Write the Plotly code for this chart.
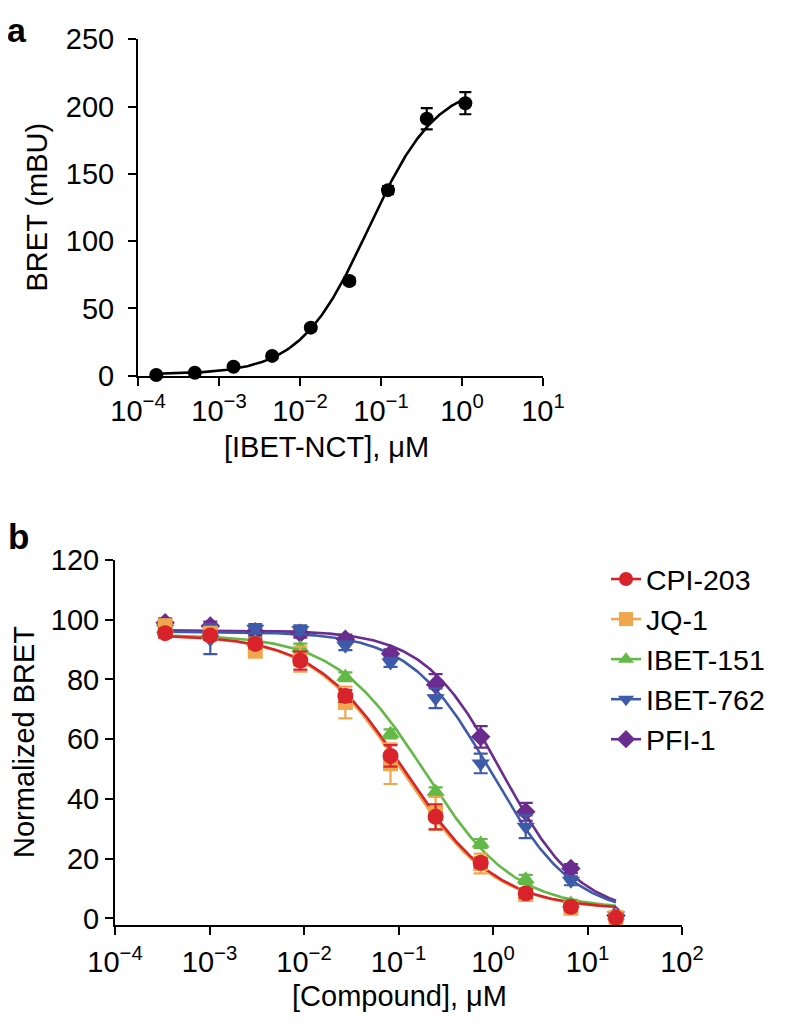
import numpy as np
import plotly.graph_objects as go

# page is drawn with an 8 px body margin, so the figure is 780 x 1017
OFF = 8
W, H = 788 - OFF, 1025 - OFF
FONT = "Liberation Sans, Arial, Helvetica, sans-serif"
FS = 29


def px(x):
    return (x - OFF) / W


def py(y):
    return (H - (y - OFF)) / H


# ---------------- Panel a data ----------------
conc_a = [1.68e-4, 5.03e-4, 1.51e-3, 4.53e-3, 1.36e-2, 4.07e-2, 0.122, 0.367, 1.1]
bret_a = [0.5, 2.2, 6.7, 14.7, 35.7, 70.4, 137.9, 190.9, 202.5]
err_a = [1.0, 1.0, 1.2, 1.5, 2.0, 2.5, 3.0, 7.9, 8.2]
fit_a = {"bottom": 1.0, "top": 218.0, "ec50": 0.07, "hill": 1.03}

# ---------------- Panel b data ----------------
conc_b = [3.39e-4, 1.02e-3, 3.05e-3, 9.14e-3, 2.74e-2, 8.23e-2, 0.247, 0.741, 2.22, 6.67, 20.0]
compounds = ["CPI-203", "JQ-1", "IBET-151", "IBET-762", "PFI-1"]
cpi203 = [95.5, 94.7, 91.9, 86.3, 74.5, 54.4, 34.0, 18.6, 8.4, 3.9, 0.2]
cpi203_err = [1.5, 1.5, 1.5, 3.0, 2.0, 3.6, 4.2, 1.5, 1.5, 1.2, 1.0]
jq1 = [98.0, 95.5, 89.5, 86.8, 72.3, 51.8, 35.2, 18.4, 8.0, 3.4, 0.3]
jq1_err = [2.0, 2.0, 2.0, 4.2, 5.3, 6.8, 5.5, 3.3, 1.5, 1.2, 1.0]
ibet151 = [97.0, 95.0, 92.5, 90.5, 80.9, 61.8, 42.4, 25.1, 13.1, 5.0, 1.0]
ibet151_err = [1.5, 1.5, 1.5, 1.5, 1.5, 1.5, 1.5, 1.5, 1.5, 1.2, 1.0]
ibet762 = [97.0, 93.5, 97.0, 96.6, 91.3, 85.7, 73.7, 51.9, 30.7, 12.6, 1.0]
ibet762_err = [1.5, 5.0, 1.5, 1.5, 1.5, 1.5, 3.3, 3.3, 3.8, 1.5, 1.0]
pfi1 = [99.0, 97.9, 96.0, 95.5, 93.5, 88.6, 78.2, 60.8, 35.7, 16.7, 1.0]
pfi1_err = [1.5, 1.5, 1.5, 1.5, 1.5, 1.5, 3.6, 3.6, 3.0, 1.5, 1.0]

values_b = [cpi203, jq1, ibet151, ibet762, pfi1]
errors_b = [cpi203_err, jq1_err, ibet151_err, ibet762_err, pfi1_err]
# fitted 4-parameter logistic parameters (top, bottom, IC50, hill)
fit_top = [95.0, 95.0, 95.0, 96.0, 96.5]
fit_bottom = [3.0, 3.0, 3.0, 1.0, 1.0]
fit_ic50 = [0.118, 0.112, 0.19, 0.97, 1.25]
fit_hill = [0.9, 0.9, 0.92, 1.0, 1.05]
colors = ["#D9232B", "#EFA64C", "#63B946", "#3E5BA9", "#6A2C8E"]
symbols = ["circle", "square", "triangle-up", "triangle-down", "diamond"]
msizes = [16, 15, 16, 16, 15]

tick_exp_a = [-4, -3, -2, -1, 0, 1]
tick_exp_b = [-4, -3, -2, -1, 0, 1, 2]


def pow_label(e):
    return "10<sup>" + ("\u2212" + str(-e) if e < 0 else str(e)) + "</sup>"


fig = go.Figure()

# ---- Panel a ----
xa = np.logspace(np.log10(conc_a[0]), np.log10(conc_a[-1]), 300)
ya = fit_a["bottom"] + (fit_a["top"] - fit_a["bottom"]) / (1 + (fit_a["ec50"] / xa) ** fit_a["hill"])
fig.add_trace(go.Scatter(x=xa, y=ya, mode="lines", line=dict(color="black", width=2.6),
                         showlegend=False, hoverinfo="skip", xaxis="x", yaxis="y", cliponaxis=False))
fig.add_trace(go.Scatter(x=conc_a, y=bret_a, mode="markers",
                         marker=dict(color="black", size=14, symbol="circle"),
                         error_y=dict(type="data", array=err_a, color="black", thickness=2.2, width=6),
                         showlegend=False, xaxis="x", yaxis="y", cliponaxis=False))

# ---- Panel b: fitted curves ----
order = [4, 3, 2, 1, 0]
for i in order:
    xb = np.logspace(np.log10(conc_b[0]), np.log10(conc_b[-1]), 300)
    yb = fit_bottom[i] + (fit_top[i] - fit_bottom[i]) / (1 + (xb / fit_ic50[i]) ** fit_hill[i])
    fig.add_trace(go.Scatter(x=xb, y=yb, mode="lines", line=dict(color=colors[i], width=2.6),
                             showlegend=False, hoverinfo="skip", xaxis="x2", yaxis="y2", cliponaxis=False))
# ---- Panel b: data points ----
for i in order:
    fig.add_trace(go.Scatter(x=conc_b, y=values_b[i], mode="markers",
                             marker=dict(color=colors[i], size=msizes[i], symbol=symbols[i]),
                             error_y=dict(type="data", array=errors_b[i], color=colors[i], thickness=2.2, width=7),
                             showlegend=False, xaxis="x2", yaxis="y2", cliponaxis=False))
# ---- legend entries ----
for i in range(5):
    fig.add_trace(go.Scatter(x=[None], y=[None], mode="lines+markers", name=compounds[i],
                             line=dict(color=colors[i], width=2.6),
                             marker=dict(color=colors[i], size=14, symbol=symbols[i]),
                             xaxis="x2", yaxis="y2", legendrank=i + 1))

axis_common = dict(showline=True, linecolor="black", linewidth=2, ticks="outside", ticklen=8,
                   tickwidth=2, tickcolor="black", showgrid=False, zeroline=False, automargin=False,
                   tickfont=dict(family=FONT, size=FS, color="black"))


def ann(text, x, y, size=FS, angle=0, weight="normal"):
    return dict(text=text, x=px(x), y=py(y), xref="paper", yref="paper", xanchor="center",
                yanchor="middle", textangle=angle, showarrow=False,
                font=dict(family=FONT, size=size, color="black", weight=weight))


fig.update_layout(
    width=W, height=H, margin=dict(l=0, r=0, t=0, b=0, autoexpand=False),
    paper_bgcolor="white", plot_bgcolor="white",
    font=dict(family=FONT, size=FS, color="black"),
    xaxis=dict(domain=[px(138), px(543)], type="log", range=[-4, 1], anchor="y",
               tickvals=[10.0 ** e for e in tick_exp_a], ticktext=[pow_label(e) for e in tick_exp_a],
               **axis_common),
    yaxis=dict(domain=[py(375.7), py(39.3)], range=[0, 250], dtick=50, anchor="x",
               ticklabelstandoff=8, **axis_common),
    xaxis2=dict(domain=[px(115), px(682)], type="log", range=[-4, 2], anchor="y2",
                tickvals=[10.0 ** e for e in tick_exp_b], ticktext=[pow_label(e) for e in tick_exp_b],
                ticklabelstandoff=2, **axis_common),
    yaxis2=dict(domain=[py(925), py(560)], range=[-2.2, 120], dtick=20, anchor="x2",
                **axis_common),
    legend=dict(x=px(606), xanchor="left", y=py(554), yanchor="top",
                font=dict(family=FONT, size=28.5, color="black"), bgcolor="rgba(0,0,0,0)",
                itemwidth=30, traceorder="normal"),
    annotations=[
        ann("a", 17, 30, size=34, weight="bold"),
        ann("b", 18, 536, size=35, weight="bold"),
        ann("BRET (mBU)", 36, 207.5, angle=-90),
        ann("[IBET-NCT], \u03bcM", 326, 447),
        ann("Normalized BRET", 24, 742, angle=-90),
        ann("[Compound], \u03bcM", 399, 996),
    ],
)

fig.write_html("out.html")
